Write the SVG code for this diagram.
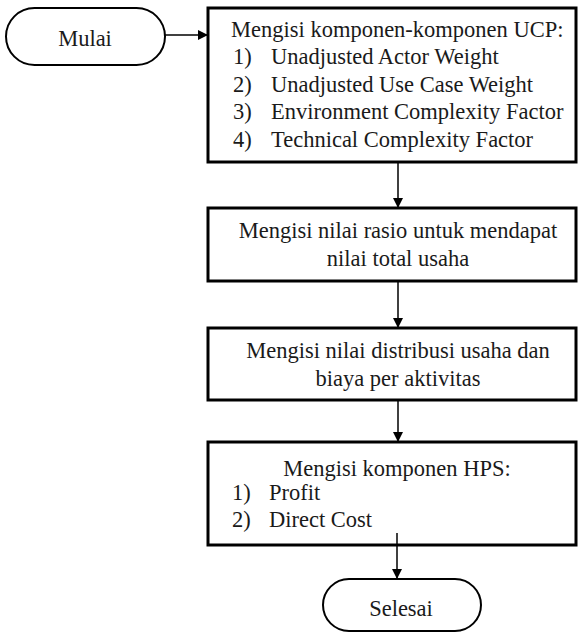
<svg xmlns="http://www.w3.org/2000/svg" width="578" height="632" viewBox="0 0 578 632">
<defs>
<marker id="ah" markerWidth="10" markerHeight="10" refX="9" refY="5" orient="auto" markerUnits="userSpaceOnUse">
<path d="M0,0 L10,5 L0,10 Z" fill="#000"/>
</marker>
<style>
.box{fill:#fff;stroke:#000;stroke-width:3}
.term{fill:#fff;stroke:#000;stroke-width:2}
.t{font-size:22.5px;fill:#1a1a1a}
.c{text-anchor:middle}
.conn{stroke:#000;stroke-width:1.5;fill:none;marker-end:url(#ah)}
</style>
</defs>
<rect width="578" height="632" fill="#fff"/>
<g font-family="'Liberation Serif', 'DejaVu Serif', serif">
<g id="mulai">
<rect class="term" x="6" y="8" width="159" height="57" rx="28.5" ry="28.5"/>
<text class="t c" x="85" y="46">Mulai</text>
</g>
<g id="ucp">
<rect class="box" x="208" y="8" width="368" height="154"/>
<text class="t" x="231" y="37">Mengisi komponen-komponen UCP:</text>
<text class="t" x="233" y="64">1)</text><text class="t" x="271" y="64">Unadjusted Actor Weight</text>
<text class="t" x="233" y="92">2)</text><text class="t" x="271" y="92">Unadjusted Use Case Weight</text>
<text class="t" x="233" y="119">3)</text><text class="t" x="271" y="119">Environment Complexity Factor</text>
<text class="t" x="233" y="147">4)</text><text class="t" x="271" y="147">Technical Complexity Factor</text>
</g>
<g id="rasio">
<rect class="box" x="208" y="208" width="368" height="73"/>
<text class="t c" x="398" y="238">Mengisi nilai rasio untuk mendapat</text>
<text class="t c" x="398" y="266">nilai total usaha</text>
</g>
<g id="distribusi">
<rect class="box" x="208" y="328" width="368" height="72"/>
<text class="t c" x="398" y="358">Mengisi nilai distribusi usaha dan</text>
<text class="t c" x="398" y="386">biaya per aktivitas</text>
</g>
<g id="hps">
<rect class="box" x="208" y="442" width="368" height="103"/>
<text class="t c" x="397" y="476">Mengisi komponen HPS:</text>
<text class="t" x="232" y="500">1)</text><text class="t" x="269" y="500">Profit</text>
<text class="t" x="232" y="527">2)</text><text class="t" x="269" y="527">Direct Cost</text>
</g>
<g id="selesai">
<rect class="term" x="323" y="579" width="158" height="52" rx="26" ry="26"/>
<text class="t c" x="401" y="616">Selesai</text>
</g>
</g>
<g id="connectors">
<line class="conn" x1="165" y1="35" x2="207" y2="35"/>
<line class="conn" x1="398" y1="162" x2="398" y2="207"/>
<line class="conn" x1="398" y1="281" x2="398" y2="327"/>
<line class="conn" x1="398" y1="400" x2="398" y2="441"/>
<line class="conn" x1="397" y1="533" x2="397" y2="578"/>
</g>
</svg>
